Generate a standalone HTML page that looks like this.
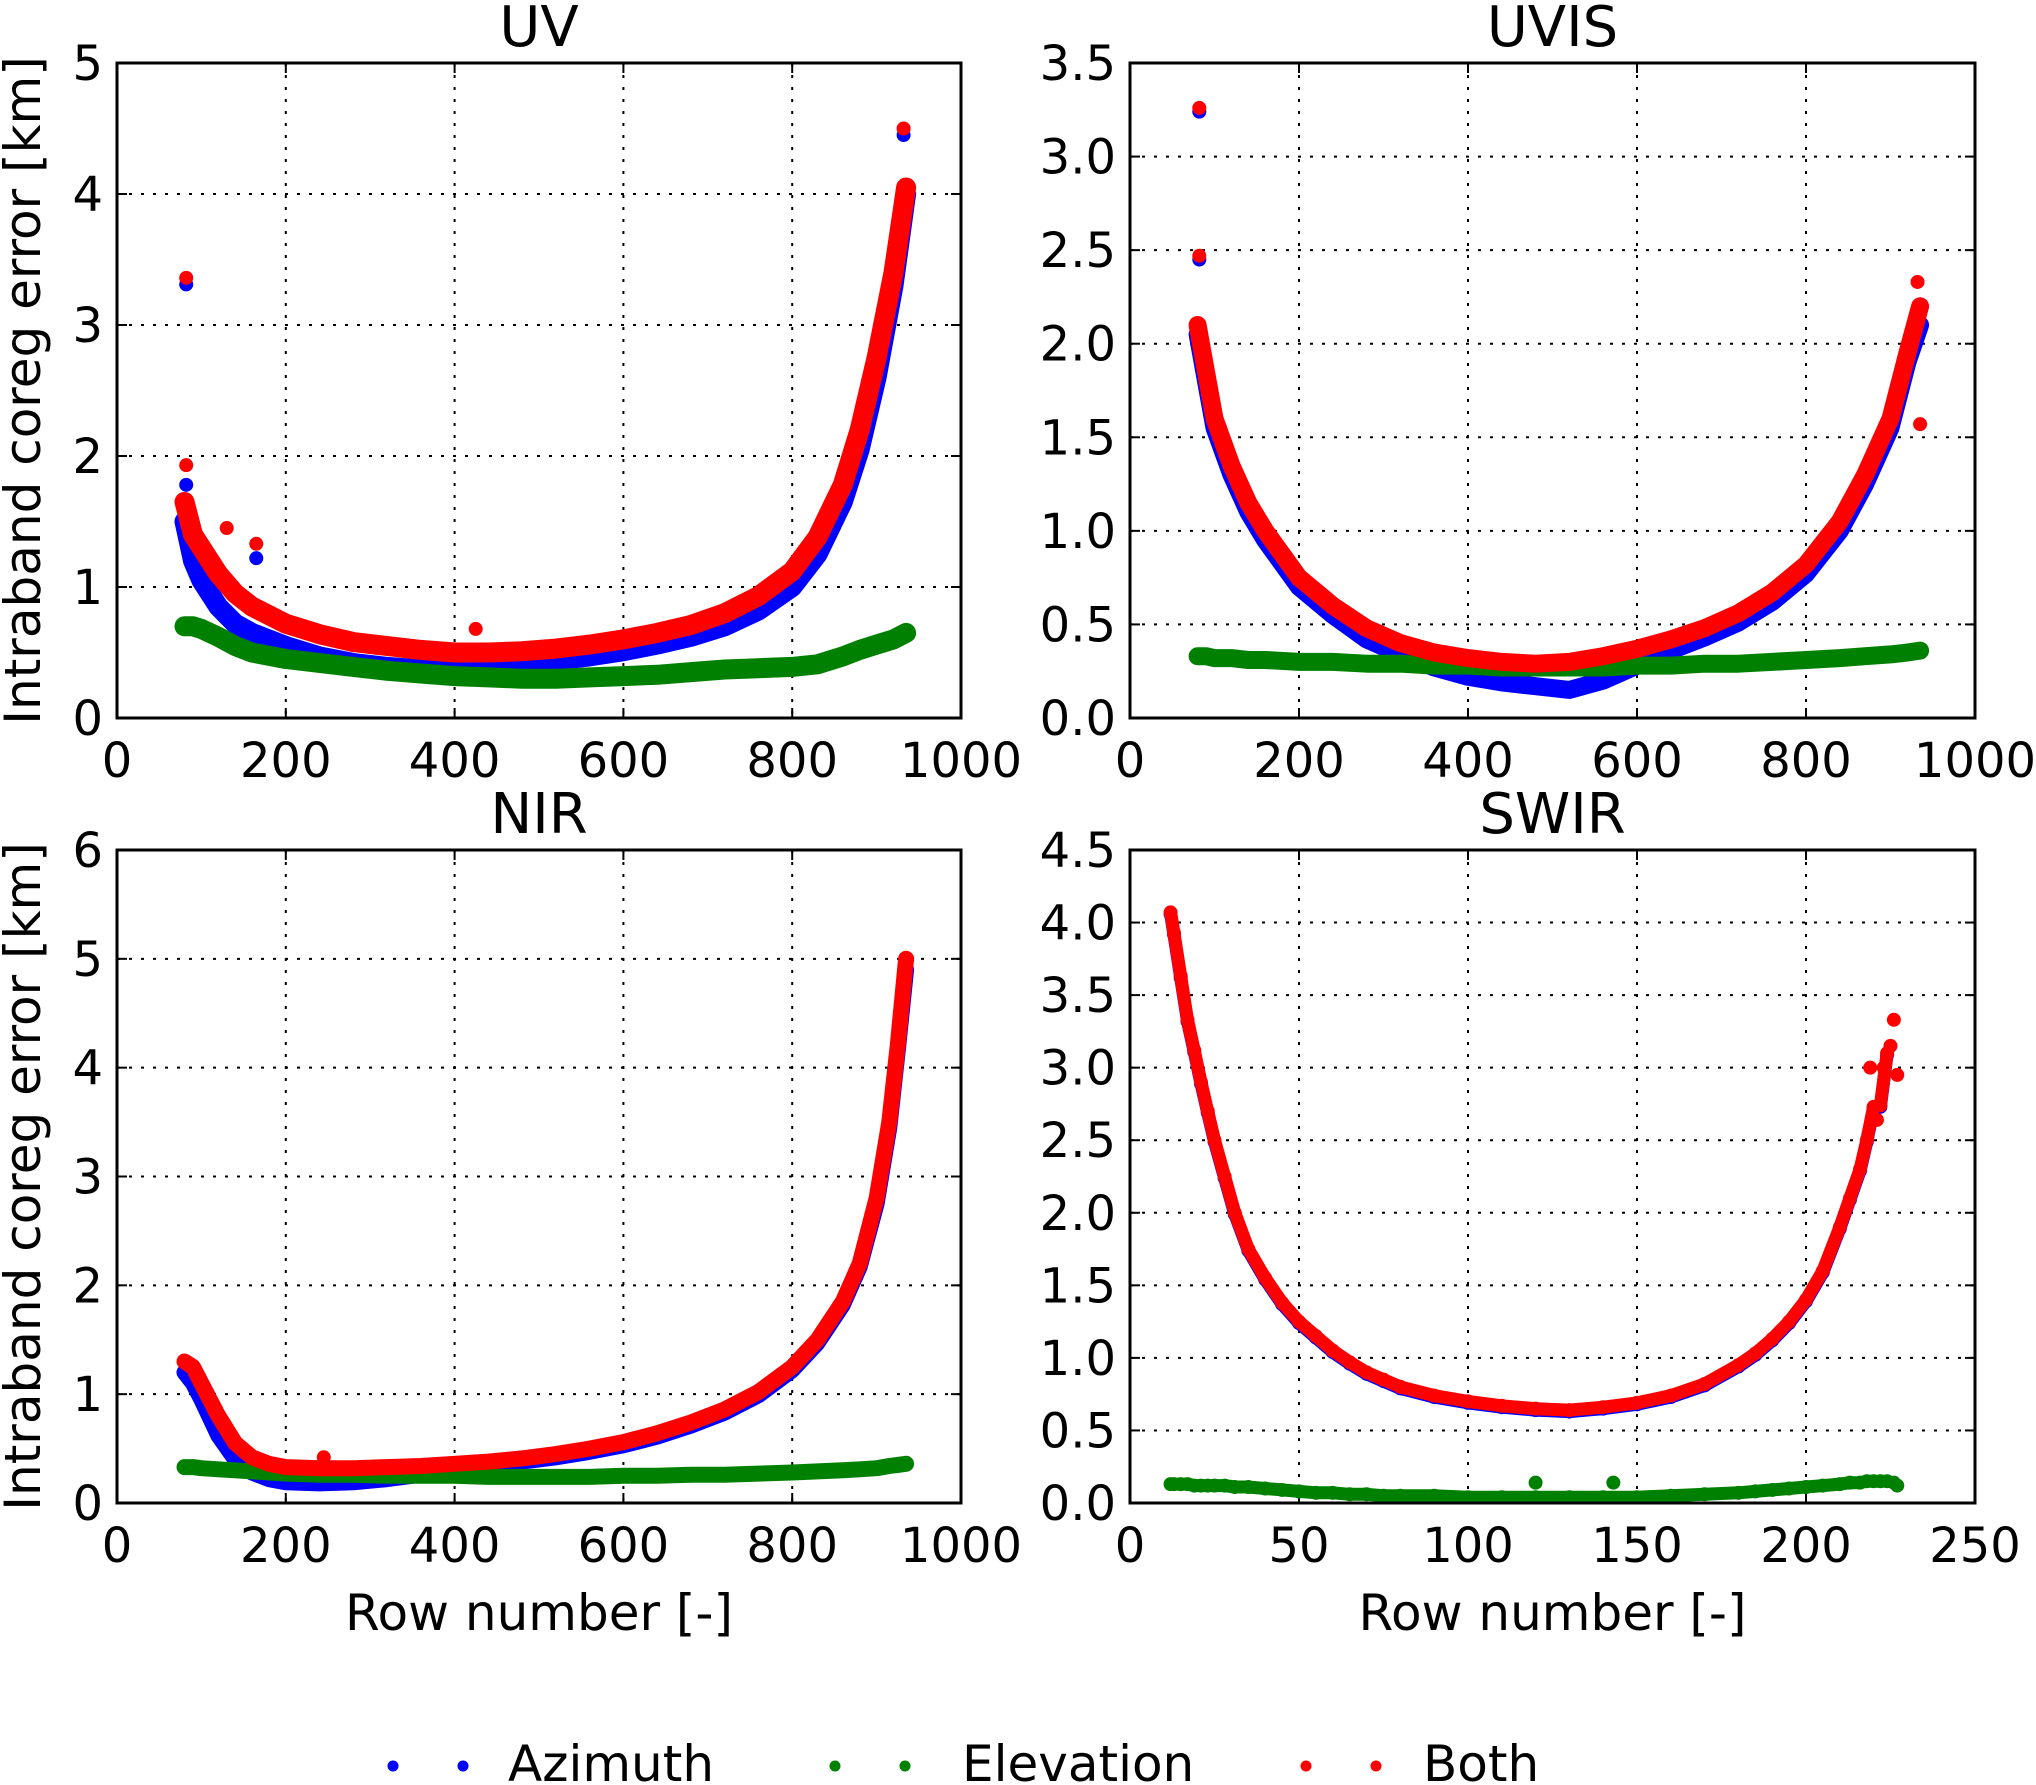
<!DOCTYPE html>
<html><head><meta charset="utf-8">
<style>
html,body{margin:0;padding:0;background:#fff;}
svg{display:block;font-family:"DejaVu Sans","Liberation Sans",sans-serif;}
</style></head>
<body>
<svg id="chart" width="2036" height="1785" viewBox="0 0 2036 1785" xmlns="http://www.w3.org/2000/svg">
</svg>
<script>
// ---------- data ----------
const uvRows = [80,90,100,120,140,160,200,240,280,320,360,400,440,480,520,560,600,640,680,720,760,800,830,860,880,900,920,935];
const uvAzimuth = [1.5,1.2,1.05,0.85,0.72,0.65,0.55,0.47,0.42,0.39,0.37,0.37,0.39,0.41,0.44,0.47,0.51,0.56,0.62,0.70,0.82,1.0,1.25,1.65,2.05,2.6,3.3,4.0];
const uvBoth = [1.65,1.4,1.3,1.1,0.95,0.85,0.72,0.64,0.58,0.55,0.52,0.5,0.5,0.51,0.53,0.56,0.6,0.65,0.71,0.8,0.93,1.12,1.38,1.78,2.2,2.75,3.4,4.05];
const uvElevation = [0.7,0.7,0.68,0.62,0.55,0.5,0.45,0.42,0.39,0.36,0.34,0.32,0.31,0.3,0.3,0.31,0.32,0.33,0.35,0.37,0.38,0.39,0.41,0.47,0.52,0.56,0.6,0.65];
const uvAzOutRows = [82,82,932,165];
const uvAzOutVals = [3.31,1.78,4.45,1.22];
const uvBothOutRows = [82,82,932,130,165,425];
const uvBothOutVals = [3.36,1.93,4.5,1.45,1.33,0.68];

const uvisRows = [80,90,100,120,140,160,200,240,280,320,360,400,440,480,520,560,600,640,680,720,760,800,840,870,900,920,935];
const uvisBoth = [2.1,1.85,1.6,1.35,1.15,1.0,0.75,0.6,0.48,0.4,0.35,0.32,0.3,0.29,0.3,0.33,0.37,0.42,0.48,0.56,0.67,0.82,1.05,1.3,1.6,1.95,2.2];
const uvisAzimuth = [2.05,1.8,1.55,1.3,1.1,0.95,0.7,0.55,0.42,0.34,0.27,0.22,0.19,0.17,0.15,0.2,0.28,0.36,0.43,0.51,0.62,0.77,1.0,1.25,1.55,1.9,2.1];
const uvisElevation = [0.33,0.33,0.32,0.32,0.31,0.31,0.3,0.3,0.29,0.29,0.28,0.28,0.27,0.27,0.27,0.27,0.28,0.28,0.29,0.29,0.3,0.31,0.32,0.33,0.34,0.35,0.36];
const uvisAzOutRows = [82,82];
const uvisAzOutVals = [3.24,2.45];
const uvisBothOutRows = [82,82,932,935];
const uvisBothOutVals = [3.26,2.47,2.33,1.57];

const nirRows = [80,90,100,120,140,160,180,200,240,280,320,360,400,440,480,520,560,600,640,680,720,760,800,830,860,880,900,915,925,935];
const nirBoth = [1.3,1.25,1.1,0.8,0.55,0.42,0.36,0.33,0.32,0.32,0.33,0.34,0.36,0.38,0.41,0.45,0.5,0.56,0.64,0.74,0.86,1.02,1.25,1.5,1.85,2.2,2.8,3.5,4.2,5.0];
const nirAzimuth = [1.2,1.1,0.95,0.62,0.4,0.28,0.22,0.19,0.18,0.19,0.22,0.26,0.3,0.34,0.38,0.42,0.47,0.53,0.61,0.71,0.83,0.99,1.22,1.47,1.82,2.17,2.75,3.45,4.15,4.9];
const nirElevation = [0.33,0.33,0.32,0.31,0.3,0.29,0.28,0.27,0.26,0.26,0.25,0.25,0.25,0.24,0.24,0.24,0.24,0.25,0.25,0.26,0.26,0.27,0.28,0.29,0.3,0.31,0.32,0.34,0.35,0.36];
const nirBothOutRows = [245];
const nirBothOutVals = [0.42];

const swirRows = [12,13,15,17,19,21,23,25,28,31,35,40,45,50,55,60,65,70,75,80,90,100,110,120,130,140,150,160,170,180,185,190,195,200,205,210,213,216,218,220,222,224];
const swirBoth = [4.07,3.93,3.63,3.33,3.12,2.9,2.7,2.5,2.25,2.0,1.75,1.55,1.38,1.25,1.15,1.05,0.97,0.9,0.85,0.8,0.74,0.7,0.67,0.65,0.64,0.66,0.69,0.74,0.82,0.95,1.03,1.13,1.25,1.4,1.6,1.9,2.1,2.3,2.5,2.73,2.74,3.1];
const swirAzimuth = [4.06,3.92,3.62,3.32,3.11,2.89,2.69,2.49,2.24,1.99,1.74,1.54,1.37,1.24,1.14,1.04,0.96,0.89,0.84,0.79,0.73,0.69,0.66,0.64,0.63,0.65,0.68,0.73,0.81,0.94,1.02,1.12,1.24,1.39,1.59,1.89,2.09,2.29,2.49,2.72,2.73,3.09];
const swirElevation = [0.13,0.13,0.13,0.13,0.12,0.12,0.12,0.12,0.12,0.11,0.11,0.1,0.09,0.08,0.07,0.07,0.06,0.06,0.05,0.05,0.05,0.04,0.04,0.04,0.04,0.04,0.04,0.05,0.06,0.07,0.08,0.09,0.1,0.11,0.12,0.13,0.14,0.14,0.15,0.15,0.15,0.15];
const swirElOutRows = [120,143,226,227];
const swirElOutVals = [0.14,0.14,0.14,0.12];
const swirBothOutRows = [219,221,223,225,226,227];
const swirBothOutVals = [3.0,2.64,3.0,3.15,3.33,2.95];

const uvYTicks = ["0","1","2","3","4","5"];
const uvisYTicks = ["0.0","0.5","1.0","1.5","2.0","2.5","3.0","3.5"];
const nirYTicks = ["0","1","2","3","4","5","6"];
const swirYTicks = ["0.0","0.5","1.0","1.5","2.0","2.5","3.0","3.5","4.0","4.5"];
const rowXTicks = ["0","200","400","600","800","1000"];
const swirXTicks = ["0","50","100","150","200","250"];
const legendLabels = ["Azimuth","Elevation","Both"];

// ---------- drawing ----------
const NS = "http://www.w3.org/2000/svg";
const svg = document.getElementById('chart');
const COL = {az:"#0000ff", el:"#008000", both:"#ff0000"};
function mk(tag, attrs, parent){
  const e = document.createElementNS(NS, tag);
  for (const k in attrs) e.setAttribute(k, attrs[k]);
  (parent||svg).appendChild(e);
  return e;
}

function panel(cfg){
  const g = mk('g', {});
  
  
  const L=cfg.x0, R=cfg.x1, T=cfg.y0, B=cfg.y1;
  const xMax = Number(cfg.xt[cfg.xt.length-1]);
  const yMax = Number(cfg.yt[cfg.yt.length-1]);
  const sx = v => L + (v/xMax)*(R-L);
  const sy = v => B - (v/yMax)*(B-T);
  const rad = cfg.r || 6;
  cfg.xt.forEach((t,i)=>{
    const x = sx(Number(t));
    if (i>0 && i<cfg.xt.length-1){
      const l = mk('line',{x1:x,y1:T,x2:x,y2:B,stroke:"#000","stroke-width":2,"stroke-dasharray":"3,9"},g);
      
      
    }
    mk('line',{x1:x,y1:B,x2:x,y2:B-10,stroke:"#000","stroke-width":2},g);
    mk('line',{x1:x,y1:T,x2:x,y2:T+10,stroke:"#000","stroke-width":2},g);
    const tx = mk('text',{x:x,y:B+59,"font-size":48,"text-anchor":"middle",fill:"#000"},g);
    tx.textContent = t;
    
    
  });
  cfg.yt.forEach((t,i)=>{
    const y = sy(Number(t));
    if (i>0 && i<cfg.yt.length-1){
      const l = mk('line',{x1:L,y1:y,x2:R,y2:y,stroke:"#000","stroke-width":2,"stroke-dasharray":"3,9"},g);
      
      
    }
    mk('line',{x1:L,y1:y,x2:L+10,y2:y,stroke:"#000","stroke-width":2},g);
    mk('line',{x1:R,y1:y,x2:R-10,y2:y,stroke:"#000","stroke-width":2},g);
    const ty = mk('text',{x:L-14,y:y+17,"font-size":48,"text-anchor":"end",fill:"#000"},g);
    ty.textContent = t;
    
    
  });
  function series(rows, vals, color, sname, width){
    const sg = mk('g',{},g);
    
    
    let d = "";
    rows.forEach((r,i)=>{ d += (i?"L":"M") + sx(r).toFixed(1) + "," + sy(vals[i]).toFixed(1); });
    mk('path',{d:d,fill:"none",stroke:color,"stroke-width":width,"stroke-linecap":"round","stroke-linejoin":"round"},sg);
    rows.forEach((r,i)=>{
      const c = mk('circle',{cx:sx(r),cy:sy(vals[i]),r:rad,fill:color},sg);
      
      
    });
  }
  function outliers(rows, vals, color, sname){
    rows.forEach((r,i)=>{
      const c = mk('circle',{cx:sx(r),cy:sy(vals[i]),r:rad,fill:color},g);
      
      
    });
  }
  series(cfg.rows, cfg.az, COL.az, 'azimuth', cfg.w);
  if (cfg.azOut) outliers(cfg.azOut[0], cfg.azOut[1], COL.az, 'azimuth');
  series(cfg.rows, cfg.el, COL.el, 'elevation', cfg.w);
  if (cfg.elOut) outliers(cfg.elOut[0], cfg.elOut[1], COL.el, 'elevation');
  series(cfg.rows, cfg.both, COL.both, 'both', cfg.w);
  if (cfg.bothOut) outliers(cfg.bothOut[0], cfg.bothOut[1], COL.both, 'both');
  const f = mk('rect',{x:L,y:T,width:R-L,height:B-T,fill:"none",stroke:"#000","stroke-width":3},g);
  
  
  const tt = mk('text',{x:(L+R)/2,y:T-17,"font-size":56,"text-anchor":"middle",fill:"#000"},g);
  tt.textContent = cfg.title;
  
  
  if (cfg.xlabel){
    const xl = mk('text',{x:(L+R)/2,y:B+127,"font-size":50,"text-anchor":"middle",fill:"#000"},g);
    xl.textContent = "Row number [-]";
    
    
  }
  if (cfg.ylabel){
    const cy = (T+B)/2;
    const yl = mk('text',{x:40,y:cy,"font-size":50,"text-anchor":"middle",fill:"#000",transform:"rotate(-90 40 "+cy+")"},g);
    yl.textContent = "Intraband coreg error [km]";
    
    
  }
}

panel({name:'uv',title:'UV',x0:117,x1:961,y0:63,y1:718,xt:rowXTicks,yt:uvYTicks,rows:uvRows,az:uvAzimuth,el:uvElevation,both:uvBoth,azOut:[uvAzOutRows,uvAzOutVals],bothOut:[uvBothOutRows,uvBothOutVals],w:20,r:7,ylabel:true});
panel({name:'uvis',title:'UVIS',x0:1130,x1:1975,y0:63,y1:718,xt:rowXTicks,yt:uvisYTicks,rows:uvisRows,az:uvisAzimuth,el:uvisElevation,both:uvisBoth,azOut:[uvisAzOutRows,uvisAzOutVals],bothOut:[uvisBothOutRows,uvisBothOutVals],w:18,r:7});
panel({name:'nir',title:'NIR',x0:117,x1:961,y0:850,y1:1503,xt:rowXTicks,yt:nirYTicks,rows:nirRows,az:nirAzimuth,el:nirElevation,both:nirBoth,bothOut:[nirBothOutRows,nirBothOutVals],w:16,r:7,ylabel:true,xlabel:true});
panel({name:'swir',title:'SWIR',x0:1130,x1:1975,y0:850,y1:1503,xt:swirXTicks,yt:swirYTicks,rows:swirRows,az:swirAzimuth,el:swirElevation,both:swirBoth,elOut:[swirElOutRows,swirElOutVals],bothOut:[swirBothOutRows,swirBothOutVals],w:13,r:7,xlabel:true});

// legend
const lg = mk('g',{});


const legendColors = [COL.az, COL.el, COL.both];
const legendMarkX = [393, 835, 1306];
const legendTextX = [508, 962, 1423];
legendLabels.forEach((lab,i)=>{
  const eg = mk('g',{},lg);
  
  
  mk('circle',{cx:legendMarkX[i],cy:1766,r:5.5,fill:legendColors[i]},eg);
  mk('circle',{cx:legendMarkX[i]+70,cy:1766,r:5.5,fill:legendColors[i]},eg);
  const t = mk('text',{x:legendTextX[i],y:1781,"font-size":50,fill:"#000"},eg);
  t.textContent = lab;
});
</script>
</body></html>
